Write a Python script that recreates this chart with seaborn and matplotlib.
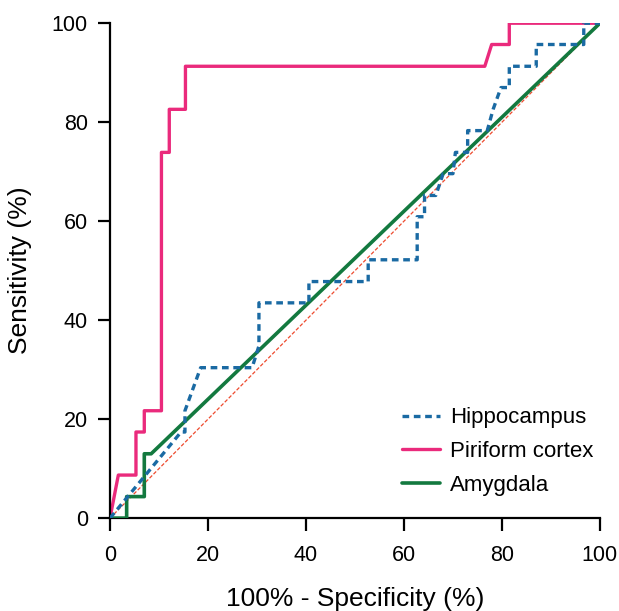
import matplotlib
matplotlib.use("Agg")
import matplotlib.pyplot as plt
import seaborn as sns
import pandas as pd

# ---- data (x = 100% - specificity, y = sensitivity) ----
hippo_x = [0, 14.5, 15.3, 15.3, 18.5, 29.0, 30.4, 30.4, 40.6, 40.6, 52.7, 52.7, 62.7, 62.7,
           64.2, 64.2, 66.5, 68.0, 70.0, 70.5, 73.0, 73.0, 77.0, 78.2, 79.8, 81.5, 81.5,
           87.0, 87.0, 96.7, 96.7, 100]
hippo_y = [0, 17.4, 17.4, 21.7, 30.4, 30.4, 34.8, 43.5, 43.5, 47.8, 47.8, 52.2, 52.2, 60.9,
           60.9, 65.2, 65.2, 69.6, 69.6, 73.9, 73.9, 78.3, 78.3, 82.6, 87.0, 87.0, 91.3,
           91.3, 95.7, 95.7, 100, 100]

piri_x = [0, 1.7, 5.3, 5.3, 7.0, 7.0, 10.5, 10.5, 12.1, 12.1, 15.4, 15.4, 76.5, 77.9, 81.5, 81.5, 100]
piri_y = [0, 8.7, 8.7, 17.4, 17.4, 21.7, 21.7, 73.9, 73.9, 82.6, 82.6, 91.3, 91.3, 95.7, 95.7, 100, 100]

amyg_x = [0, 3.4, 3.4, 7.0, 7.0, 8.4, 100]
amyg_y = [0, 0, 4.35, 4.35, 13.0, 13.0, 100]

ref_x = [0, 100]
ref_y = [0, 100]

series_names = ["Hippocampus", "Piriform cortex", "Amygdala"]
xticks = [0, 20, 40, 60, 80, 100]
yticks = [0, 20, 40, 60, 80, 100]

# ---- styling ----
sns.set_theme(style="ticks")
plt.rcParams["font.family"] = ["Liberation Sans", "DejaVu Sans"]
plt.rcParams["text.color"] = "black"
plt.rcParams["axes.labelcolor"] = "black"

c_hippo = "#1a6aa3"
c_piri = "#ea2a7c"
c_amyg = "#13793f"
c_ref = "#ee4a2e"

fig = plt.figure(figsize=(6.19, 6.11), dpi=100)
ax = fig.add_axes([0.1777, 0.152, 0.7915, 0.810])

df_ref = pd.DataFrame({"x": ref_x, "y": ref_y})
df_p = pd.DataFrame({"x": piri_x, "y": piri_y})
df_a = pd.DataFrame({"x": amyg_x, "y": amyg_y})
df_h = pd.DataFrame({"x": hippo_x, "y": hippo_y})

sns.lineplot(data=df_ref, x="x", y="y", sort=False, estimator=None, ax=ax,
             color=c_ref, linewidth=0.9, linestyle=(0, (3, 1.5)), zorder=1)
sns.lineplot(data=df_p, x="x", y="y", sort=False, estimator=None, ax=ax,
             color=c_piri, linewidth=2.4, label=series_names[1], zorder=2)
sns.lineplot(data=df_a, x="x", y="y", sort=False, estimator=None, ax=ax,
             color=c_amyg, linewidth=2.6, label=series_names[2], zorder=3)
sns.lineplot(data=df_h, x="x", y="y", sort=False, estimator=None, ax=ax,
             color=c_hippo, linewidth=2.4, linestyle=(0, (2, 1.4)),
             label=series_names[0], zorder=4)

ax.set_xlim(0, 100)
ax.set_ylim(0, 100)
ax.set_xticks(xticks)
ax.set_yticks(yticks)
ax.margins(0)
for s in ["top", "right"]:
    ax.spines[s].set_visible(False)
for s in ["left", "bottom"]:
    ax.spines[s].set_linewidth(1.6)
    ax.spines[s].set_color("black")
ax.tick_params(axis="both", direction="out", length=9, width=1.6,
               labelsize=15.5, colors="black", pad=7)
ax.tick_params(axis="x", pad=10)

ax.set_xlabel("100% - Specificity (%)", fontsize=19, color="black")
ax.set_ylabel("Sensitivity (%)", fontsize=19, color="black")
ax.xaxis.set_label_coords(0.5, -0.14)
ax.yaxis.set_label_coords(-0.16, 0.5)

handles, labels = ax.get_legend_handles_labels()
order = [labels.index(n) for n in series_names]
leg = ax.legend([handles[i] for i in order], [labels[i] for i in order],
                loc="lower right", frameon=False, fontsize=16,
                handlelength=1.7, handletextpad=0.45, labelspacing=0.58,
                bbox_to_anchor=(1.027, 0.004))
for t in leg.get_texts():
    t.set_color("black")

fig.savefig("out.png", dpi=100)
